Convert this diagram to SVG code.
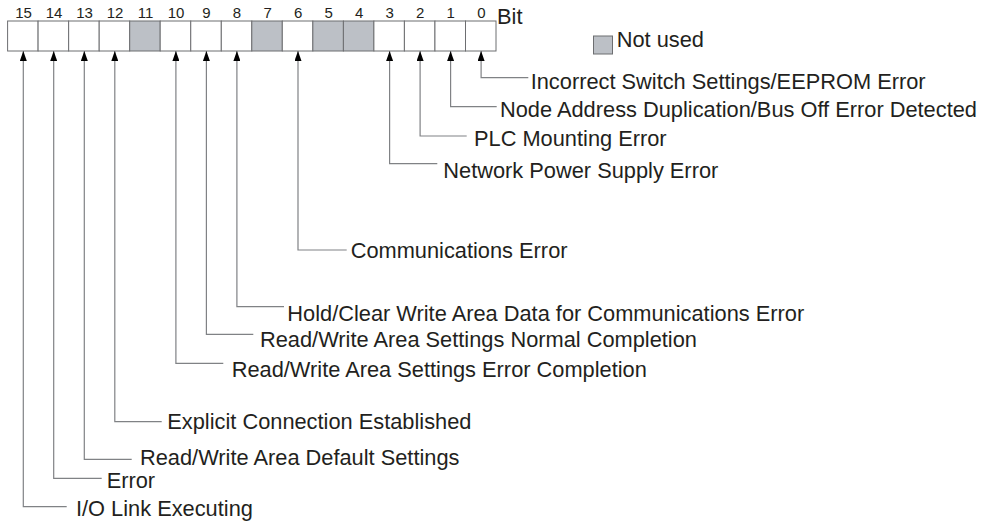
<svg xmlns="http://www.w3.org/2000/svg" width="984" height="522" viewBox="0 0 984 522">
<style>
.cell{fill:#ffffff;stroke:#6d6e71;stroke-width:1}
.unused{fill:#bcc0c6;stroke:#6d6e71;stroke-width:1}
.num{font-family:"Liberation Sans",Arial,sans-serif;font-size:15px;fill:#231f20;text-anchor:middle}
.lbl{font-family:"Liberation Sans",Arial,sans-serif;font-size:21.8px;fill:#231f20}
.conn{fill:none;stroke:#808285;stroke-width:1.2}
</style>
<defs>
<marker id="arr" markerUnits="userSpaceOnUse" markerWidth="10" markerHeight="7" refX="10" refY="3.5" viewBox="0 0 10 7" orient="auto">
<path d="M0,0 L10,3.5 L0,7 z" fill="#000000"/>
</marker>
</defs>
<rect width="984" height="522" fill="#ffffff"/>
<g id="register">
<rect class="cell" x="7.6" y="21" width="30.5" height="30"/>
<rect class="cell" x="38.1" y="21" width="30.55" height="30"/>
<rect class="cell" x="68.65" y="21" width="30.55" height="30"/>
<rect class="cell" x="99.2" y="21" width="30.5" height="30"/>
<rect class="unused" x="129.7" y="21" width="30.5" height="30"/>
<rect class="cell" x="160.2" y="21" width="30.55" height="30"/>
<rect class="cell" x="190.75" y="21" width="30.55" height="30"/>
<rect class="cell" x="221.3" y="21" width="30.5" height="30"/>
<rect class="unused" x="251.8" y="21" width="30.5" height="30"/>
<rect class="cell" x="282.3" y="21" width="30.55" height="30"/>
<rect class="unused" x="312.85" y="21" width="30.55" height="30"/>
<rect class="unused" x="343.4" y="21" width="30.5" height="30"/>
<rect class="cell" x="373.9" y="21" width="30.5" height="30"/>
<rect class="cell" x="404.4" y="21" width="30.55" height="30"/>
<rect class="cell" x="434.95" y="21" width="30.55" height="30"/>
<rect class="cell" x="465.5" y="21" width="30.5" height="30"/>
<text class="num" x="23.5" y="17.5">15</text>
<text class="num" x="54" y="17.5">14</text>
<text class="num" x="84.5" y="17.5">13</text>
<text class="num" x="115" y="17.5">12</text>
<text class="num" x="145.5" y="17.5">11</text>
<text class="num" x="176" y="17.5">10</text>
<text class="num" x="206.5" y="17.5">9</text>
<text class="num" x="237" y="17.5">8</text>
<text class="num" x="267.6" y="17.5">7</text>
<text class="num" x="298.1" y="17.5">6</text>
<text class="num" x="328.6" y="17.5">5</text>
<text class="num" x="359.2" y="17.5">4</text>
<text class="num" x="389.7" y="17.5">3</text>
<text class="num" x="420.2" y="17.5">2</text>
<text class="num" x="450.7" y="17.5">1</text>
<text class="num" x="481.3" y="17.5">0</text>
<text class="lbl" x="497" y="24">Bit</text>
</g>
<g id="legend">
<rect class="unused" x="593.5" y="36" width="19" height="18"/>
<text class="lbl" x="616.7" y="46.7">Not used</text>
</g>
<g id="connectors">
<path class="conn" marker-end="url(#arr)" d="M528.3,77.7 H481.1 V51"/>
<path class="conn" marker-end="url(#arr)" d="M496.7,106.7 H450.6 V51"/>
<path class="conn" marker-end="url(#arr)" d="M466.7,136 H420.1 V51"/>
<path class="conn" marker-end="url(#arr)" d="M437.3,163.7 H389.6 V51"/>
<path class="conn" marker-end="url(#arr)" d="M346.7,250 H298 V51"/>
<path class="conn" marker-end="url(#arr)" d="M284,306.7 H236.9 V51"/>
<path class="conn" marker-end="url(#arr)" d="M253.3,334.3 H206.4 V51"/>
<path class="conn" marker-end="url(#arr)" d="M223.3,363.3 H175.9 V51"/>
<path class="conn" marker-end="url(#arr)" d="M161.7,421.7 H114.8 V51"/>
<path class="conn" marker-end="url(#arr)" d="M131.7,459.3 H84.3 V51"/>
<path class="conn" marker-end="url(#arr)" d="M101.7,478.3 H53.7 V51"/>
<path class="conn" marker-end="url(#arr)" d="M66.7,506.7 H23.3 V51"/>
</g>
<g id="bit0"><text class="lbl" x="530.7" y="89">Incorrect Switch Settings/EEPROM Error</text></g>
<g id="bit1"><text class="lbl" x="500" y="116.7">Node Address Duplication/Bus Off Error Detected</text></g>
<g id="bit2"><text class="lbl" x="474" y="146">PLC Mounting Error</text></g>
<g id="bit3"><text class="lbl" x="443.3" y="177.5">Network Power Supply Error</text></g>
<g id="bit6"><text class="lbl" x="350.7" y="257.7">Communications Error</text></g>
<g id="bit8"><text class="lbl" x="287.3" y="320.7">Hold/Clear Write Area Data for Communications Error</text></g>
<g id="bit9"><text class="lbl" x="260" y="346.7">Read/Write Area Settings Normal Completion</text></g>
<g id="bit10"><text class="lbl" x="231.7" y="376.7">Read/Write Area Settings Error Completion</text></g>
<g id="bit12"><text class="lbl" x="167.3" y="429.3">Explicit Connection Established</text></g>
<g id="bit13"><text class="lbl" x="140" y="465">Read/Write Area Default Settings</text></g>
<g id="bit14"><text class="lbl" x="106.7" y="487.5">Error</text></g>
<g id="bit15"><text class="lbl" x="76" y="515.5">I/O Link Executing</text></g>
</svg>
